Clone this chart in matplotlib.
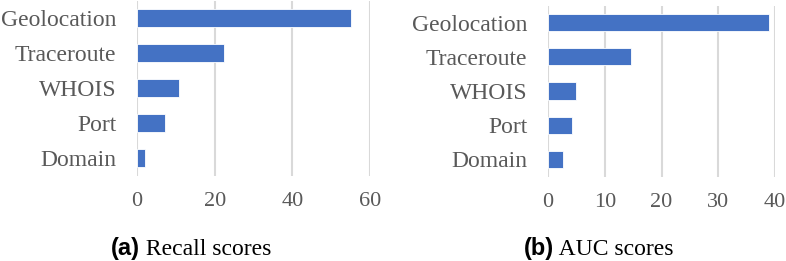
import matplotlib
matplotlib.use("Agg")
import matplotlib.pyplot as plt

categories = ["Geolocation", "Traceroute", "WHOIS", "Port", "Domain"]
recall_scores = [55.1, 22.5, 10.8, 7.2, 2.1]
auc_scores = [38.9, 14.6, 5.0, 4.2, 2.7]
recall_ticks = [0, 20, 40, 60]
auc_ticks = [0, 10, 20, 30, 40]

W, H = 786, 261
fig = plt.figure(figsize=(W / 100, H / 100), dpi=100)

BAR = "#4472C4"
GRID = "#D9D9D9"
TXT = "#595959"
SERIF = ["Liberation Serif", "DejaVu Serif"]
SANS = ["Liberation Sans", "DejaVu Sans"]


def panel(left, right, top, bottom, values, ticks, letter, title, cx):
    ax = fig.add_axes([left / W, 1 - bottom / H, (right - left) / W, (bottom - top) / H])
    y = list(range(len(categories)))
    ax.barh(y, values, height=0.5, color=BAR, edgecolor="white", linewidth=0.6, zorder=3)
    ax.set_ylim(len(categories) - 0.5, -0.5)
    ax.set_xlim(ticks[0], ticks[-1])
    ax.set_xticks(ticks)
    ax.set_yticks(y)
    ax.set_yticklabels(categories)
    ax.xaxis.grid(True, color=GRID, linewidth=1.5, zorder=0)
    ax.set_axisbelow(True)
    for s in ax.spines.values():
        s.set_visible(False)
    ax.tick_params(length=0, labelcolor=TXT)
    ax.tick_params(axis="y", labelsize=17, pad=15)
    ax.tick_params(axis="x", labelsize=16, pad=12)
    for lab in ax.get_xticklabels() + ax.get_yticklabels():
        lab.set_fontfamily(SERIF)
    # caption
    t1 = fig.text(0, 0, letter, fontsize=17, fontweight="bold", family=SANS, color="black")
    t2 = fig.text(0, 0, " " + title, fontsize=17, family=SERIF, color="black")
    fig.canvas.draw()
    r = fig.canvas.get_renderer()
    w1 = t1.get_window_extent(r).width
    w2 = t2.get_window_extent(r).width
    x0 = cx - (w1 + w2) / 2
    yb = 1 - 255 / H
    t1.set_position((x0 / W, yb))
    t2.set_position(((x0 + w1) / W, yb))
    return ax


panel(137, 370, 0.5, 175.5, recall_scores, recall_ticks, "(a)", "Recall scores", 191)
panel(548, 775, 5.5, 176.5, auc_scores, auc_ticks, "(b)", "AUC scores", 599)

fig.savefig("out.png", dpi=100)
